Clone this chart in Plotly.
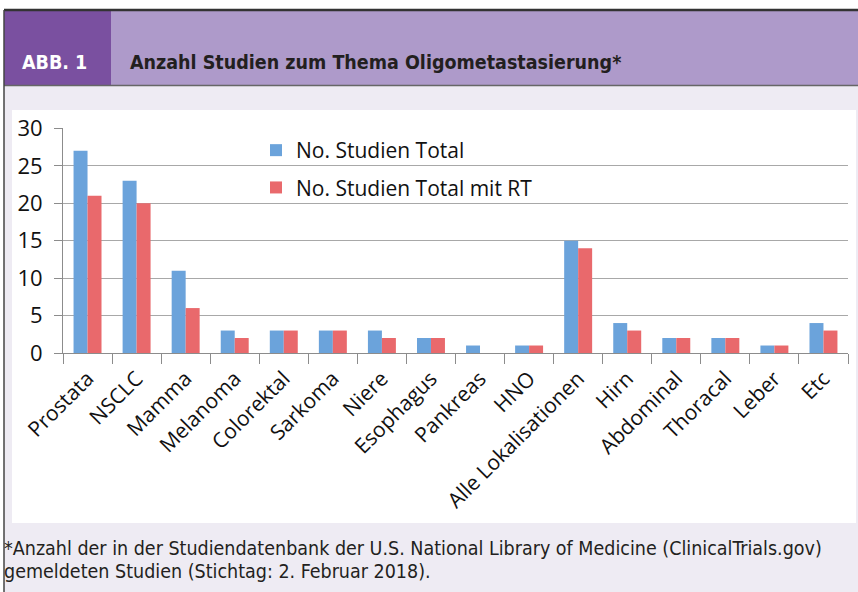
import plotly.graph_objects as go

categories = ["Prostata", "NSCLC", "Mamma", "Melanoma", "Colorektal", "Sarkoma", "Niere",
              "Esophagus", "Pankreas", "HNO", "Alle Lokalisationen", "Hirn", "Abdominal",
              "Thoracal", "Leber", "Etc"]
total = [27, 23, 11, 3, 3, 3, 3, 2, 1, 1, 15, 4, 2, 2, 1, 4]
total_rt = [21, 20, 6, 2, 3, 3, 2, 2, 0, 1, 14, 3, 2, 2, 1, 3]
series_names = ["No. Studien Total", "No. Studien Total mit RT"]
y_ticks = [0, 5, 10, 15, 20, 25, 30]
header_tag = "ABB. 1"
header_title = "Anzahl Studien zum Thema Oligometastasierung*"
footnote_lines = ["*Anzahl der in der Studiendatenbank der U.S. National Library of Medicine (ClinicalTrials.gov)",
                  "gemeldeten Studien (Stichtag: 2. Februar 2018)."]

W, H = 858, 592

def px(x):
    return x / W

def py(y):
    return 1 - y / H

fig = go.Figure()
fig.add_trace(go.Bar(x=categories, y=total, name=series_names[0], legendgroup="a",
                     marker=dict(color="#6BA3DB", line=dict(width=0))))
fig.add_trace(go.Bar(x=categories, y=total_rt, name=series_names[1], legendgroup="b",
                     marker=dict(color="#E9696C", line=dict(width=0))))

P = dict(xref="paper", yref="paper", layer="below")
shapes = [
    dict(type="rect", x0=px(4), x1=px(858), y0=py(592), y1=py(85), fillcolor="#EEEBF3", line=dict(width=0), **P),
    dict(type="rect", x0=px(12), x1=px(856), y0=py(523), y1=py(110), fillcolor="#FFFFFF", line=dict(width=0), **P),
    dict(type="rect", x0=px(4), x1=px(858), y0=py(85), y1=py(10), fillcolor="#AE9ACA", line=dict(width=0), **P),
    dict(type="rect", x0=px(4), x1=px(111), y0=py(85), y1=py(10), fillcolor="#7A50A0", line=dict(width=0), **P),
    dict(type="line", x0=px(4), x1=px(858), y0=py(10), y1=py(10), line=dict(color="#333333", width=2.5), **P),
    dict(type="line", x0=px(4), x1=px(858), y0=py(85.5), y1=py(85.5), line=dict(color="#666666", width=1.5), **P),
    dict(type="line", x0=px(4), x1=px(4), y0=py(10), y1=py(592), line=dict(color="#444444", width=1.5), **P),
]

HF = "Liberation Sans Narrow, DejaVu Sans Condensed, sans-serif"
annotations = [
    dict(text="<b>" + header_tag + "</b>", x=px(20), y=py(63), xref="paper", yref="paper",
         xanchor="left", yanchor="middle", showarrow=False,
         font=dict(family=HF, size=19.5, color="#FFFFFF")),
    dict(text="<b>" + header_title + "</b>", x=px(128), y=py(63), xref="paper", yref="paper",
         xanchor="left", yanchor="middle", showarrow=False,
         font=dict(family=HF, size=19.5, color="#231F20")),
]
for i, line in enumerate(footnote_lines):
    annotations.append(dict(text=line, x=px(2), y=py(548 + 23 * i), xref="paper", yref="paper",
                            xanchor="left", yanchor="middle", showarrow=False, align="left",
                            font=dict(family=HF, size=19.5, color="#231F20")))

fig.update_layout(
    width=W, height=H,
    margin=dict(l=0, r=0, t=0, b=0, autoexpand=False),
    paper_bgcolor="#FFFFFF",
    plot_bgcolor="rgba(0,0,0,0)",
    barmode="group",
    bargap=0.43,
    bargroupgap=0,
    showlegend=True,
    legend=dict(x=px(256), y=py(130), xanchor="left", yanchor="top",
                bgcolor="rgba(0,0,0,0)", traceorder="grouped", tracegroupgap=7,
                font=dict(family="Open Sans, sans-serif", size=21, color="#111111"),
                itemwidth=30),
    xaxis=dict(domain=[px(63), px(848)], showline=True, linecolor="#8C8C8C", linewidth=1,
               ticks="outside", tickson="boundaries", ticklen=10, tickcolor="#8C8C8C",
               ticklabelstandoff=4,
               tickangle=-45, tickfont=dict(family="Open Sans, sans-serif", size=21, color="#111111"),
               showgrid=False, anchor="y", automargin=False),
    yaxis=dict(domain=[py(353), py(128)], range=[0, 30.05], tickvals=y_ticks,
               showline=True, linecolor="#8C8C8C", linewidth=1,
               ticks="outside", ticklen=8, tickcolor="#8C8C8C", ticklabelstandoff=7,
               tickfont=dict(family="Open Sans, sans-serif", size=22, color="#111111"),
               showgrid=True, gridcolor="#A8A8A8", gridwidth=1, zeroline=False, anchor="x",
               automargin=False),
    shapes=shapes,
    annotations=annotations,
)

fig.write_html("out.html", config={"displayModeBar": False},
               post_script="document.body.style.margin='0px';")
